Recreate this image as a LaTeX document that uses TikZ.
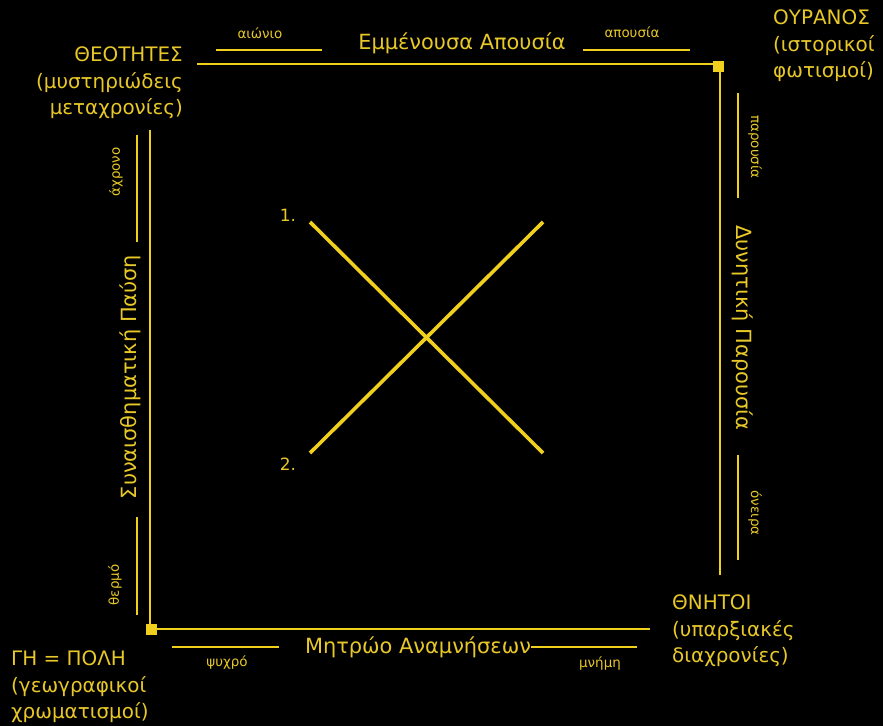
\documentclass[tikz,border=0pt]{standalone}
\usepackage{fontspec}
\setmainfont{DejaVu Sans}
\definecolor{ln}{RGB}{240,208,28}
\definecolor{tx}{RGB}{232,200,40}
\begin{document}
\begin{tikzpicture}[x=1bp,y=-1bp,
  frame/.style={draw=ln,line width=2.6bp},
  short/.style={draw=ln,line width=2.4bp},
  crossline/.style={draw=ln,line width=3.6bp},
  big/.style={text=tx,font=\fontsize{21}{26}\selectfont,inner sep=0pt},
  corner/.style={text=tx,font=\fontsize{20}{26.3}\selectfont,inner sep=0pt},
  small/.style={text=tx,font=\fontsize{13.5}{16}\selectfont,inner sep=0pt},
  num/.style={text=tx,font=\fontsize{17}{20}\selectfont,inner sep=0pt},
  sq/.style={fill=ln,minimum size=11bp,inner sep=0pt}]
\fill[black] (0,0) rectangle (883,726);
\useasboundingbox (0,0) rectangle (883,726);
% frame
\coordinate (tl) at (197,64);
\coordinate (tr) at (720,64);
\coordinate (rb) at (720,575);
\coordinate (lt) at (150,130);
\coordinate (bl) at (150,629);
\coordinate (br) at (650,629);
\draw[frame] (tl) -- (tr) -- (rb);
\draw[frame] (lt) -- (bl) -- (br);
\node[sq] (sqtr) at (718.5,66.5) {};
\node[sq] (sqbl) at (151.5,629.5) {};
% top
\node[big] (top) at (462,43) {Εμμένουσα Απουσία};
\coordinate (t1a) at (216,50); \coordinate (t1b) at (322,50);
\coordinate (t2a) at (583,50); \coordinate (t2b) at (690,50);
\draw[short] (t1a) -- (t1b);
\draw[short] (t2a) -- (t2b);
\node[small] (aionio) at (260,33) {αιώνιο};
\node[small] (apousia) at (632,32) {απουσία};
% left
\node[big,rotate=90] (left) at (130,377) {Συναισθηματική Παύση};
\coordinate (l1a) at (137,135); \coordinate (l1b) at (137,242);
\coordinate (l2a) at (137,517); \coordinate (l2b) at (137,615);
\draw[short] (l1a) -- (l1b);
\draw[short] (l2a) -- (l2b);
\node[small,rotate=90] (axrono) at (116,172) {άχρονο};
\node[small,rotate=90] (thermo) at (115,585) {θερμό};
% right
\node[big,rotate=-90] (right) at (743,328) {Δυνητική Παρουσία};
\coordinate (r1a) at (738,93); \coordinate (r1b) at (738,198);
\coordinate (r2a) at (738,455); \coordinate (r2b) at (738,560);
\draw[short] (r1a) -- (r1b);
\draw[short] (r2a) -- (r2b);
\node[small,rotate=-90] (parousia) at (755,147) {παρουσία};
\node[small,rotate=-90] (oneira) at (755,513) {όνειρα};
% bottom
\node[big] (bottom) at (418,647) {Μητρώο Αναμνήσεων};
\coordinate (b1a) at (172,647); \coordinate (b1b) at (279,647);
\coordinate (b2b) at (637,647);
\draw[short] (b1a) -- (b1b);
\draw[short] (bottom.east) -- (b2b);
\node[small] (psyxro) at (227,663) {ψυχρό};
\node[small] (mnimi) at (600,664) {μνήμη};
% corners
\node[corner,anchor=north east,align=right] (theo) at (183,47) {ΘΕΟΤΗΤΕΣ\\(μυστηριώδεις\\μεταχρονίες)};
\node[corner,anchor=north west,align=left] (ouranos) at (773,10) {ΟΥΡΑΝΟΣ\\(ιστορικοί\\φωτισμοί)};
\node[corner,anchor=north west,align=left] (thnitoi) at (672,595) {ΘΝΗΤΟΙ\\(υπαρξιακές\\διαχρονίες)};
\node[corner,anchor=north west,align=left] (gi) at (11,651) {ΓΗ = ΠΟΛΗ\\(γεωγραφικοί\\χρωματισμοί)};
% cross
\coordinate (c1) at (310,222); \coordinate (c2) at (543,453);
\coordinate (c3) at (310,453); \coordinate (c4) at (543,222);
\draw[crossline] (c1) -- (c2);
\draw[crossline] (c3) -- (c4);
\node[num] (n1) at (288,215) {1.};
\node[num] (n2) at (288,464) {2.};
\end{tikzpicture}
\end{document}
